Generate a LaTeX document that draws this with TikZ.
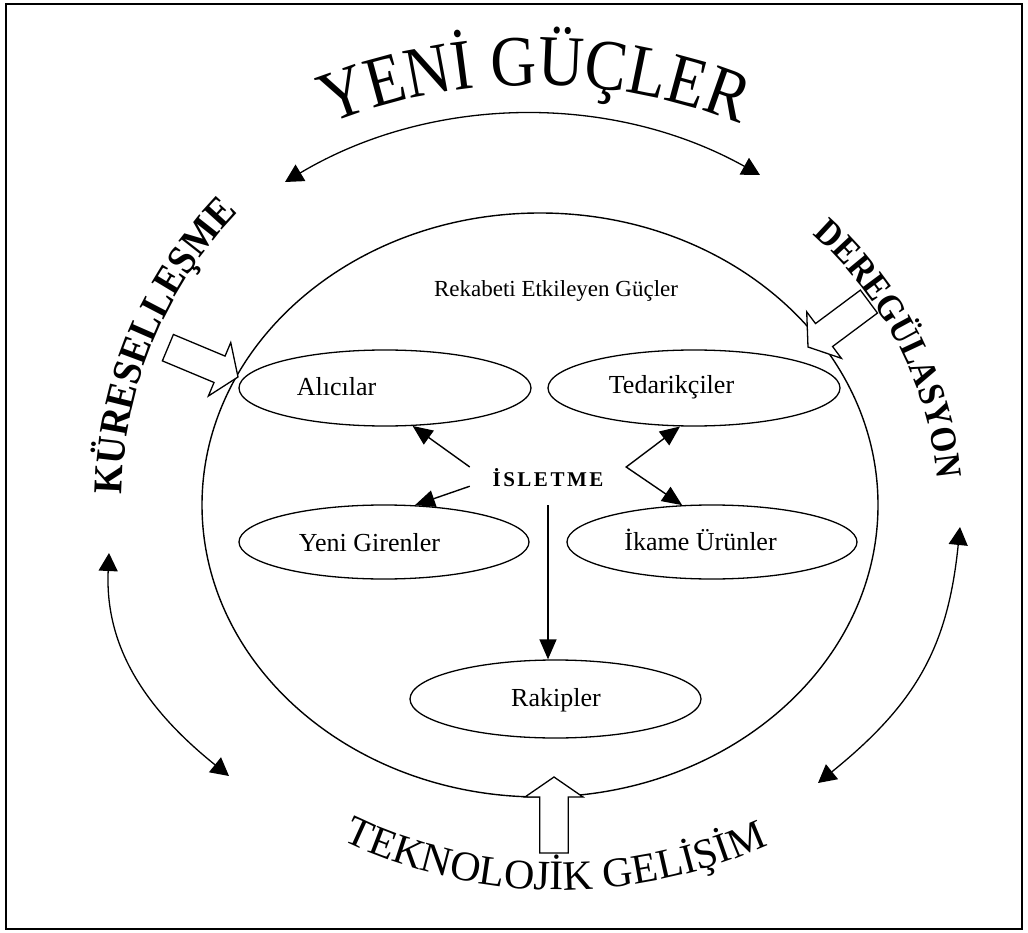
\documentclass[tikz,border=0pt]{standalone}
\usepackage{fontspec}
\setmainfont{Liberation Serif}
\newfontfamily\archfont[FakeStretch=0.88]{Liberation Serif}
\newfontfamily\kfont[FakeStretch=0.92]{Liberation Serif}
\newfontfamily\dfont[FakeStretch=0.9]{Liberation Serif}
\usetikzlibrary{shapes.geometric, arrows.meta, decorations.text}

\begin{document}
\begin{tikzpicture}[x=1pt, y=-1pt,
  frame/.style={draw, line width=1.6pt},
  oval/.style={ellipse, draw, line width=1.3pt, minimum width=292pt, minimum height=76pt, inner sep=0pt},
  lbl/.style={font=\fontsize{26pt}{30pt}\selectfont, anchor=base, inner sep=0pt},
  link/.style={line width=1.4pt, -{Triangle[length=20pt, width=17pt]}},
  twolink/.style={line width=1.4pt, {Triangle[length=20pt, width=17pt]}-{Triangle[length=20pt, width=17pt]}},
  swing/.style={line width=1.3pt, {Triangle[length=18pt, width=19pt]}-{Triangle[length=18pt, width=19pt]}},
  hollow/.style={draw, line width=1.3pt, fill=white, line join=miter},
  pics/blockarrow/.style={code={%
    \path[hollow] (0,0) -- (-20,29) -- (-20,14.3) -- (-76,14.3) -- (-76,-14.3)
      -- (-20,-14.3) -- (-20,-29) -- cycle;}},
  arctext/.style={decorate, decoration={text along path, text align=center, text={#1}}}
]
\useasboundingbox (0,0) rectangle (1028,933);
\draw[frame] (6,4) rectangle (1022,929);

% the competitive field
\node[ellipse, draw, line width=1.4pt, minimum width=676pt, minimum height=584pt, inner sep=0pt] (rekabet) at (540,505) {};
\node[font=\fontsize{23pt}{27pt}\selectfont, anchor=base, inner sep=0pt] (rekabet-t) at (556,297) {Rekabeti Etkileyen Güçler};

% the five forces
\node[oval] (alicilar) at (385,388) {};
\node[lbl] (alicilar-t) at (336.5,395) {Alıcılar};
\node[oval] (tedarik) at (694,388) {};
\node[lbl] (tedarik-t) at (671.5,393) {Tedarikçiler};
\node[oval, minimum width=290pt, minimum height=74pt] (yeni) at (384,542) {};
\node[lbl] (yeni-t) at (369.5,551) {Yeni Girenler};
\node[oval, minimum width=290pt, minimum height=74pt] (ikame) at (712,542) {};
\node[lbl] (ikame-t) at (700.5,550) {İkame Ürünler};
\node[oval, minimum width=291pt, minimum height=78pt] (rakip) at (555.5,699) {};
\node[lbl] (rakip-t) at (556,706) {Rakipler};

% the firm in the middle
\node[minimum width=156pt, minimum height=54pt, inner sep=0pt,
      font=\fontsize{21pt}{25pt}\selectfont\bfseries\addfontfeatures{LetterSpace=12}] (isletme) at (548,478) {İSLETME};

\draw[link] (isletme.172) -- (alicilar.-54);
\draw[link] (isletme.186) -- (yeni.50);
\draw[link] (isletme.south) -- (isletme.south |- rakip.north);
\draw[twolink] (tedarik.-110) -- (isletme.8) -- (ikame.129);

% interaction arrows between the new forces
\coordinate (tl) at (285,182);
\coordinate (tr) at (760,175);
\draw[swing] (tl) .. controls (431,95) and (611,92) .. (tr);
\coordinate (ll1) at (109,553);
\coordinate (ll2) at (229,776);
\draw[swing] (ll1) .. controls (105,640) and (138,703) .. (ll2);
\coordinate (rr1) at (960,527);
\coordinate (rr2) at (818,783);
\draw[swing] (rr1) .. controls (948,646) and (917,703) .. (rr2);

% pressure arrows into the field
\pic[rotate=-22.7] at (238,377) {blockarrow};
\pic[rotate=-143.3] at (808,347) {blockarrow};
\pic[rotate=90] at (554,777) {blockarrow};

% arched headings
\path[arctext={|\archfont\fontsize{72pt}{72pt}\selectfont|YENİ GÜÇLER}]
  plot[domain=0:1, samples=100] ({535+560*cos(240+60*\x)}, {645+560*sin(240+60*\x)});
\path[arctext={|\kfont\bfseries\fontsize{41pt}{41pt}\selectfont|KÜRESELLEŞME}]
  plot[domain=0:1, samples=100] ({535+413*cos(170+65*\x)}, {500+413*sin(170+65*\x)});
\path[arctext={|\dfont\bfseries\fontsize{37pt}{37pt}\selectfont|DEREGÜLASYON}]
  plot[domain=0:1, samples=100] ({565+374*cos(-60+66*\x)}, {515+374*sin(-60+66*\x)});
\path[arctext={|\fontsize{42pt}{42pt}\selectfont|TEKNOLOJİK GELİŞİM}]
  plot[domain=0:1, samples=100] ({560+500*cos(125.5-70*\x)}, {390+500*sin(125.5-70*\x)});
\end{tikzpicture}
\end{document}
